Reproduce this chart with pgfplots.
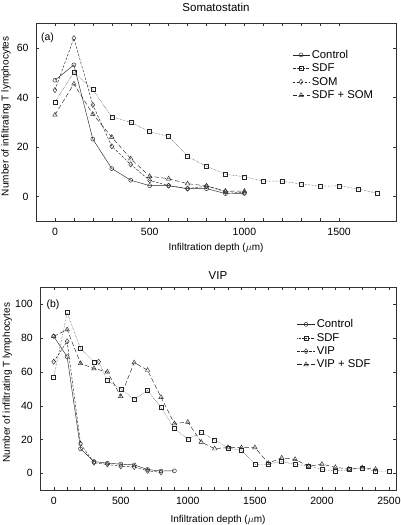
\documentclass[border=0pt]{standalone}
\usepackage{pgfplots}
\pgfplotsset{compat=1.18}
\usepackage{fontspec}
\setmainfont{Liberation Sans}

\pgfplotsset{
  myax/.style={
    scale only axis,
    tick align=inside,
    minor x tick num=4,
    xtick pos=both, ytick pos=both,
    axis line style={black!80},
    every tick/.style={black!80},
    major tick length=3pt, minor tick length=3pt,
    /pgf/number format/assume math mode=true,
    /pgf/number format/1000 sep={},
    tick label style={font=\fontsize{10.5}{12}\selectfont},
    xticklabel style={yshift=-3pt},
    yticklabel style={xshift=-4pt},
    label style={font=\fontsize{10}{12}\selectfont},
    ylabel={Number of infiltrating T lymphocytes},
    xlabel={Infiltration depth ($\mu$m)},
    xlabel style={at={(axis description cs:0.5,0)}, anchor=center},
    ylabel style={at={(axis description cs:0,0.53)}, anchor=center},
    title style={at={(axis description cs:0.5,1)}, anchor=center, font=\fontsize{11.5}{13}\selectfont},
    legend style={draw=none, fill=none, font=\fontsize{11.3}{13}\selectfont, anchor=north west},
    legend cell align=left,
    every axis plot/.append style={line width=0.45pt, black!85},
  },
  c1/.style={solid, mark=o, mark size=2pt, mark options={solid, fill=white}},
  c2/.style={densely dotted, mark=square, mark size=2pt, mark options={solid, fill=white}},
  c3/.style={dash pattern=on 2.5pt off 1.5pt, mark=diamond, mark size=2.6pt, mark options={solid, fill=white}},
  c4/.style={dash pattern=on 4.5pt off 2.5pt, mark=triangle, mark size=2.6pt, mark options={solid, fill=white}},
}

\begin{document}
\begin{tikzpicture}[x=1pt,y=1pt]
\useasboundingbox (0,0) rectangle (400,525);

\begin{axis}[myax,
  at={(36pt,303.7pt)}, anchor=south west,
  width=360pt, height=198pt,
  xmin=-100, xmax=1800, ymin=-10, ymax=70,
  xtick={0,500,1000,1500}, ytick={0,20,40,60},
  title={Somatostatin}, title style={yshift=10pt},
  xlabel style={yshift=-26.7pt},
  ylabel style={yshift=30pt},
  legend style={at={(0.703,0.886)}},
]
\addplot[c1] coordinates {(0,47)(100,53.2)(200,23.2)(300,11.3)(400,6.6)(500,4.4)(600,4.4)(700,3.2)(800,3.2)(900,1.2)(1000,1.3)};
\addlegendentry{Control}
\addplot[c2] coordinates {(0,38.2)(100,50.2)(200,43.2)(300,32.2)(400,30)(500,26.2)(600,24.3)(700,16.2)(800,12.2)(900,9)(1000,8)(1100,6.2)(1200,6.2)(1300,5.1)(1400,4.2)(1500,4.3)(1600,3.1)(1700,1.3)};
\addlegendentry{SDF}
\addplot[c3] coordinates {(0,43)(100,64)(200,37)(300,20.3)(400,13)(500,6.5)(600,4.4)(700,3.2)(800,4.2)(900,2)(1000,1.5)};
\addlegendentry{SOM}
\addplot[c4] coordinates {(0,33)(100,45.5)(200,33.3)(300,24)(400,15.3)(500,8.2)(600,7.2)(700,5.2)(800,4.3)(900,2.2)(1000,2.2)};
\addlegendentry{SDF + SOM}
\node at (rel axis cs:0,1) [anchor=center, xshift=11.5pt, yshift=-14pt, font=\fontsize{10.5}{12}\selectfont] {(a)};
\end{axis}

\begin{axis}[myax,
  at={(40.3pt,34.7pt)}, anchor=south west,
  width=355.4pt, height=203pt,
  xmin=-100, xmax=2550, ymin=-10, ymax=110,
  xtick={0,500,1000,1500,2000,2500}, ytick={0,20,40,60,80,100},
  title={VIP}, title style={yshift=6pt},
  xlabel style={yshift=-29.5pt},
  ylabel style={yshift=33pt},
  legend style={at={(0.714,0.862)}},
]
\addplot[c1] coordinates {(0,81)(100,69)(200,14.5)(300,7)(400,6)(500,5.5)(600,5)(700,2.3)(800,1.4)(900,1.5)};
\addlegendentry{Control}
\addplot[c2, forget plot, mark indices={1,2,3,4,6,7,8,9,10,11,12,13,14,15,16,17,18,19,20,21,22,23,24,25,26,27}] coordinates {(0,56.7)(100,95)(200,73.8)(300,66)(335,66)(400,55)(500,50)(600,43.7)(700,49)(800,39)(900,26.4)(1000,20.3)(1100,24.2)(1200,19.8)(1300,15)(1400,13.5)(1500,5.3)(1600,5.5)(1700,7)(1800,5.3)(1900,4.5)(2000,2.3)(2100,1.4)(2200,2.2)(2300,3.3)(2400,1.2)(2500,1.5)};
\addlegendimage{c2}
\addlegendentry{SDF}
\addplot[c3] coordinates {(0,66)(100,78)(200,17.5)(300,6.3)(400,5.3)(500,4.2)(600,3.8)(700,1.5)(800,0.6)};
\addlegendentry{VIP}
\addplot[c4] coordinates {(0,81)(100,85)(200,65)(300,62)(400,60)(500,45.6)(600,65.5)(700,61)(800,45)(900,29.5)(1000,30.3)(1100,18.5)(1200,14.6)(1300,15.3)(1400,15.2)(1500,15.3)(1600,6)(1700,9.2)(1800,8.3)(1900,4.2)(2000,5.5)(2100,3.6)(2200,2.6)(2300,3.4)(2400,2.5)};
\addlegendentry{VIP + SDF}
\addplot[c3, only marks, forget plot] coordinates {(335,66)};
\node at (rel axis cs:0,1) [anchor=center, xshift=12.7pt, yshift=-17.5pt, font=\fontsize{10.5}{12}\selectfont] {(b)};
\end{axis}
\end{tikzpicture}
\end{document}
